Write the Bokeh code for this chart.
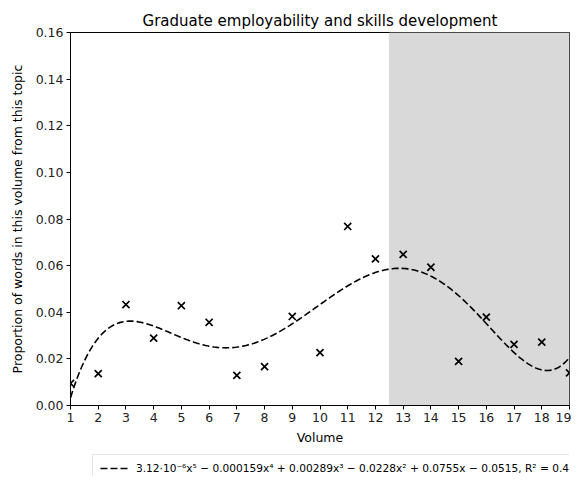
import numpy as np
from bokeh.plotting import figure
from bokeh.layouts import column
from bokeh.models import (FixedTicker, PrintfTickFormatter, BoxAnnotation, Legend, LegendItem,
                          Range1d)
from bokeh.embed import file_html
from bokeh.resources import INLINE

title = "Graduate employability and skills development"
volumes = list(range(1, 20))
proportions = [0.0095, 0.0137, 0.0433, 0.0289, 0.0428, 0.0357, 0.0129, 0.0167, 0.0382, 0.0227,
               0.0768, 0.0629, 0.0648, 0.0593, 0.0189, 0.0379, 0.0262, 0.0272, 0.0140]
shade_start = 12.5
shade_end = 19
y_ticks = [0.0, 0.02, 0.04, 0.06, 0.08, 0.10, 0.12, 0.14, 0.16]
fit_label = "3.12·10⁻⁶x⁵ − 0.000159x⁴ + 0.00289x³ − 0.0228x² + 0.0755x − 0.0515, R² = 0.4"

FONT = "DejaVu Sans"

p = figure(width=571, height=448, output_backend="svg", toolbar_location=None,
           x_range=Range1d(1, 19), y_range=Range1d(0, 0.16),
           min_border_left=70, min_border_right=2, min_border_top=32, min_border_bottom=43)

p.title.text = title
p.title.text_font = FONT
p.title.text_font_size = "15px"
p.title.text_font_style = "normal"
p.title.align = "center"
p.title.text_color = "black"
p.title.standoff = 5

shade = BoxAnnotation(left=shade_start, right=shade_end, fill_color="#d9d9d9", fill_alpha=1.0,
                      line_color="#c4c4c4", line_width=1, level="underlay")
p.add_layout(shade)

# polynomial fit computed from data
coef = np.polyfit(volumes, proportions, 5)
xs = np.linspace(1, 19, 300)
ys = np.polyval(coef, xs)
fit_style = dict(line_color="black", line_width=1.6, line_dash="7 3")
p.line(xs, ys, **fit_style)

p.scatter(volumes, proportions, marker="x", size=10, line_color="black", line_width=1.7)

p.xgrid.visible = False
p.ygrid.visible = False
p.outline_line_color = "black"
p.outline_line_width = 1
p.outline_line_alpha = 1

p.xaxis.ticker = FixedTicker(ticks=volumes)
p.yaxis.ticker = FixedTicker(ticks=y_ticks)
p.yaxis.formatter = PrintfTickFormatter(format="%.2f")
p.xaxis.axis_label = "Volume"
p.yaxis.axis_label = "Proportion of words in this volume from this topic"
for ax in (p.xaxis[0], p.yaxis[0]):
    ax.axis_label_text_font = FONT
    ax.axis_label_text_font_size = "12.5px"
    ax.axis_label_text_font_style = "normal"
    ax.axis_label_text_color = "black"
    ax.major_label_text_font = FONT
    ax.major_label_text_font_size = "12.5px"
    ax.major_label_text_color = "#222222"
    ax.major_tick_in = 0
    ax.major_tick_out = 4
    ax.minor_tick_out = 0
    ax.minor_tick_in = 0
    ax.axis_line_color = "black"
    ax.major_tick_line_color = "black"
    ax.major_label_standoff = 3
p.xaxis[0].axis_label_standoff = 5
p.yaxis[0].axis_label_standoff = 8

# legend strip below the chart (its frame is aligned with the main frame)
q = figure(width=571, height=28, output_backend="svg", toolbar_location=None,
           x_axis_type=None, y_axis_type=None, x_range=Range1d(1, 19), y_range=Range1d(10, 11),
           min_border_left=70, min_border_right=2, min_border_top=0, min_border_bottom=0)
q.outline_line_color = None
q.xgrid.visible = False
q.ygrid.visible = False
legend_line = q.line(xs, ys, **fit_style)  # same fit, outside the strip's visible range
legend = Legend(items=[LegendItem(label=fit_label, renderers=[legend_line])], location=(22, -6),
                label_text_font=FONT, label_text_font_size="10.6px", label_text_color="black",
                border_line_color="#cccccc", border_line_width=1, background_fill_alpha=1,
                glyph_width=30, glyph_height=12, padding=7, margin=0, label_height=12,
                label_standoff=6, spacing=0)
q.add_layout(legend, "center")

open("out.html", "w").write(file_html(column(p, q, spacing=0), INLINE))
